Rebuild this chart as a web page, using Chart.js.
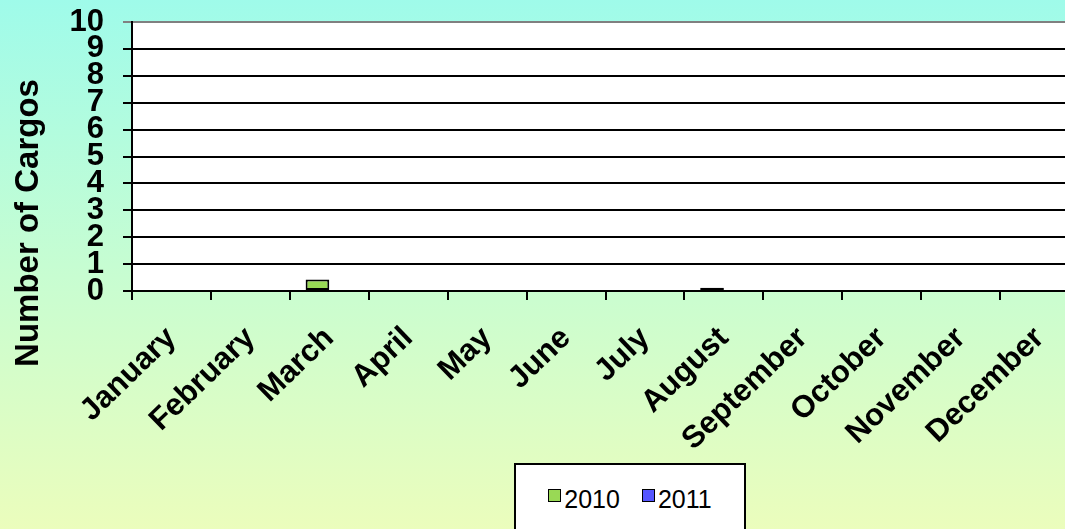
<!DOCTYPE html>
<html>
<head>
<meta charset="utf-8">
<script src="https://cdn.jsdelivr.net/npm/chart.js@4/dist/chart.umd.min.js"></script>
<style>
  html, body {
    margin: 0;
    width: 1065px;
    height: 529px;
    overflow: hidden;
    font-family: "Liberation Sans", Arial, sans-serif;
    background: linear-gradient(to bottom, #9ffbea 0%, #c6fdd2 50%, #ebfdbc 100%);
  }
  #wrap { position: absolute; left: 0; top: 0; width: 1079px; height: 529px; }
  #legend {
    position: absolute;
    left: 514px; top: 463px;
    width: 232px; height: 90px;
    background: #fff;
    border: 2px solid #000;
    display: flex;
    justify-content: center;
    padding-top: 18px;
    box-sizing: border-box;
    gap: 22px;
  }
  .item { display: flex; align-items: center; font-size: 25px; height: 32px; }
  .swatch { width: 11px; height: 11px; border: 1.5px solid #000; margin-right: 3px; margin-top: -7px; }
</style>
</head>
<body>
<div id="wrap"><canvas id="cargoChart" width="1079" height="529"></canvas></div>
<div id="legend"></div>
<script>
const months = ['January', 'February', 'March', 'April', 'May', 'June', 'July',
  'August', 'September', 'October', 'November', 'December'];
const cargos2010 = [0, 0, 0.43, 0, 0, 0, 0, 0.12, 0, 0, 0, 0];
const cargos2011 = [0, 0, 0, 0, 0, 0, 0, 0, 0, 0, 0, 0];
const yTicks = [0, 1, 2, 3, 4, 5, 6, 7, 8, 9, 10];
const yTitle = 'Number of Cargos';

const fontFamily = '"Liberation Sans", Arial, sans-serif';
const boldFont = { family: fontFamily, size: 31, weight: 'bold' };

// white plot area behind the bars
const plotBackground = {
  id: 'plotBackground',
  beforeDraw(chart) {
    const { ctx, chartArea } = chart;
    ctx.save();
    ctx.fillStyle = '#ffffff';
    ctx.fillRect(chartArea.left, chartArea.top, chartArea.right - chartArea.left, chartArea.bottom - chartArea.top);
    ctx.restore();
  }
};

// axis title sits lower than the plot centre in the original, so draw it by hand
const axisTitle = {
  id: 'axisTitle',
  afterDraw(chart) {
    const { ctx } = chart;
    ctx.save();
    ctx.translate(29, 223);
    ctx.rotate(-Math.PI / 2);
    ctx.font = `bold 33px ${fontFamily}`;
    ctx.fillStyle = '#000';
    ctx.textAlign = 'center';
    ctx.textBaseline = 'middle';
    ctx.fillText(yTitle, 0, 0);
    ctx.restore();
  }
};

const ctx = document.getElementById('cargoChart').getContext('2d');
const cargoChart = new Chart(ctx, {
  type: 'bar',
  data: {
    labels: months,
    datasets: [
      { label: '2010', data: cargos2010, backgroundColor: '#99d955', borderColor: '#000', borderWidth: 2, borderSkipped: false },
      { label: '2011', data: cargos2011, backgroundColor: '#5656ff', borderColor: '#000', borderWidth: 2, borderSkipped: false }
    ]
  },
  options: {
    responsive: false,
    animation: false,
    layout: { padding: { top: 22, left: 0, right: 0, bottom: 0 } },
    datasets: { bar: { categoryPercentage: 0.6, barPercentage: 1 } },
    plugins: { legend: { display: false }, tooltip: { enabled: false } },
    scales: {
      x: {
        grid: { offset: true, drawOnChartArea: false, color: '#000', lineWidth: 2, tickLength: 9 },
        border: { color: '#000', width: 2 },
        ticks: { color: '#000', font: boldFont, minRotation: 44, maxRotation: 44, padding: 20, autoSkip: false },
        afterFit(scale) {
          scale.height = 238;
          scale.paddingLeft = 0;
          scale.paddingRight = 0;
        }
      },
      y: {
        min: 0,
        max: 10,
        afterBuildTicks(scale) { scale.ticks = yTicks.map(v => ({ value: v })); },
        grid: {
          color: c => c.tick && c.tick.value === 10 ? '#808080' : '#000',
          lineWidth: 2,
          tickLength: 9
        },
        border: { color: '#000', width: 2 },
        ticks: { color: '#000', font: boldFont, padding: 19, autoSkip: false },
        afterFit(scale) {
          scale.width = 132;
          scale.paddingTop = 0;
          scale.paddingBottom = 0;
        }
      }
    }
  },
  plugins: [plotBackground, axisTitle]
});

// legend box built from the dataset labels and colours
const legend = document.getElementById('legend');
legend.innerHTML = cargoChart.data.datasets.map(ds => `
  <div class="item"><span class="swatch" style="background:${ds.backgroundColor}"></span>${ds.label}</div>
`).join('');
</script>
</body>
</html>
